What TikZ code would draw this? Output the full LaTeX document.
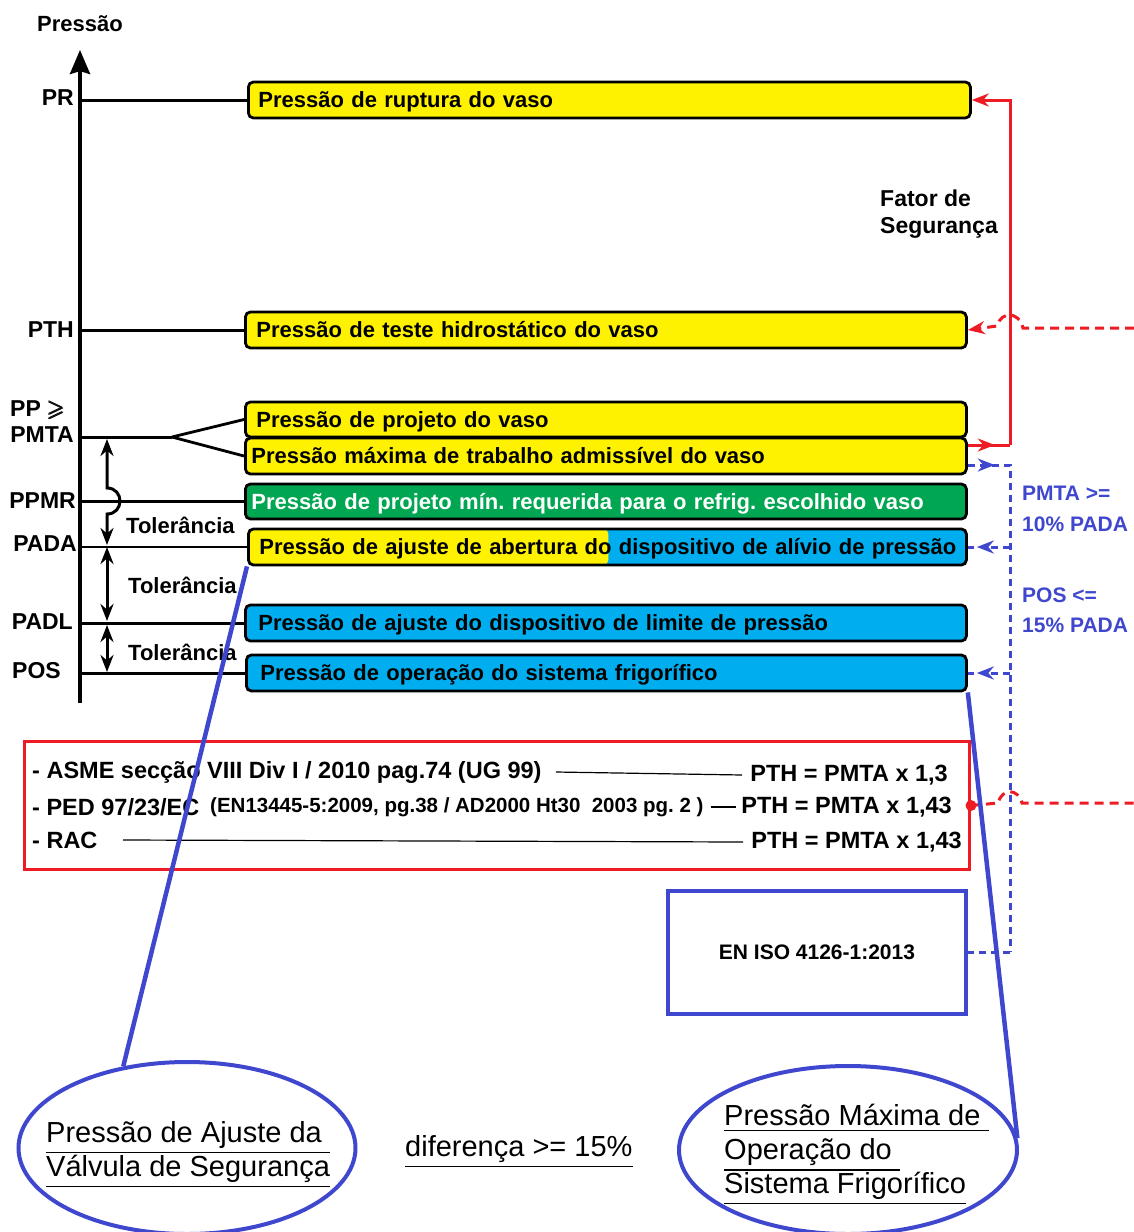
\documentclass[tikz,border=0pt]{standalone}
\usepackage{amsmath}
\usepackage{amssymb}
\usepackage{fontspec}
\setmainfont{Liberation Sans}
\usetikzlibrary{arrows.meta,shapes.geometric}
\definecolor{ylw}{HTML}{FFF200}
\definecolor{grn}{HTML}{00A651}
\definecolor{cyn}{HTML}{00AEEF}
\definecolor{rd}{HTML}{ED1C24}
\definecolor{bl}{HTML}{4047CF}
\frenchspacing
\tikzset{
 lbl/.style={font=\bfseries\fontsize{22}{26}\selectfont, inner sep=0pt},
 albl/.style={font=\bfseries\fontsize{23}{26}\selectfont, inner sep=0pt},
 bx/.style={draw=black, line width=2.8pt, rounded corners=5pt, minimum height=36pt, inner ysep=0pt, text height=20pt, text depth=4.2pt, anchor=west, align=left, font=\bfseries\fontsize{22}{26}\selectfont},
 ln/.style={line width=3pt, black},
 tol/.style={line width=3pt, {Stealth[length=17pt,width=13pt]}-{Stealth[length=17pt,width=13pt]}},
 redl/.style={rd, line width=3pt},
 reddash/.style={rd, line width=3pt, dash pattern=on 9pt off 6pt},
 bdash/.style={bl, line width=3pt, dash pattern=on 7pt off 5pt},
 bline/.style={bl, line width=4.5pt},
 blbl/.style={font=\bfseries\fontsize{21}{25}\selectfont, text=bl, inner sep=0pt, anchor=west},
 rtx/.style={font=\bfseries\fontsize{23.5}{26}\selectfont, inner sep=0pt},
 stx/.style={font=\bfseries\fontsize{20.5}{22}\selectfont, inner sep=0pt},
 utx/.style={font=\fontsize{29}{34}\selectfont, inner sep=0pt, align=left},
 tip/.style={-{Stealth[length=17pt,width=13pt]}},
}
\begin{document}
\begin{tikzpicture}[x=1pt,y=-1pt]
\useasboundingbox[fill=white] (0,0) rectangle (1134,1232);

% axis
\coordinate (axb) at (80,703);
\coordinate (axt) at (80,50);
\draw[line width=4pt, -{Stealth[length=24pt,width=20pt,inset=3pt]}] (axb) -- (axt);
\node[lbl] (ttl) at (80,24) {Pressão};

% boxes
\node[bx, fill=ylw, text width=702pt, inner xsep=10pt] (pr) at (247,100) {\mbox{Pressão de ruptura do vaso}};
\node[bx, fill=ylw, text width=699pt, inner xsep=11pt] (pth) at (244,330) {\mbox{Pressão de teste hidrostático do vaso}};
\node[bx, fill=ylw, text width=699pt, inner xsep=11pt, minimum height=35pt] (pp) at (244,419.5) {\mbox{Pressão de projeto do vaso}};
\node[bx, fill=ylw, text width=709pt, inner xsep=6pt] (pmta) at (244,456) {\mbox{Pressão máxima de trabalho admissível do vaso}};
\node[bx, fill=grn, text=white, text width=709pt, inner xsep=6pt, minimum height=35pt] (ppmr) at (244,501.5) {\mbox{Pressão de projeto mín. requerida para o refrig. escolhido vaso}};
\node[bx, fill=cyn, text width=696pt, inner xsep=11pt,
  path picture={\fill[ylw] (path picture bounding box.south west) rectangle ([xshift=360pt]path picture bounding box.north west);}] (pada) at (247,547) {\mbox{Pressão de ajuste de abertura do dispositivo de alívio de pressão}};
\node[bx, fill=cyn, text width=695pt, inner xsep=13pt] (padl) at (244,623) {\mbox{Pressão de ajuste do dispositivo de limite de pressão}};
\node[bx, fill=cyn, text width=692pt, inner xsep=14pt] (pos) at (245,673) {\mbox{Pressão de operação do sistema frigorífico}};

% left labels
\node[albl, anchor=east] (lpr) at (74,98) {PR};
\node[albl, anchor=east] (lpth) at (74,330) {PTH};
\node[albl, anchor=west] (lpp) at (10,410) {PP $\pmb{\geqslant}$};
\node[albl, anchor=east] (lpmta) at (74,435) {PMTA};
\node[albl, anchor=east] (lppmr) at (76,501) {PPMR};
\node[albl, anchor=east] (lpada) at (77,544) {PADA};
\node[albl, anchor=east] (lpadl) at (73,622) {PADL};
\node[albl, anchor=east] (lpos) at (61,671) {POS};

% horizontal lines
\draw[ln] (pr.west -| axb) -- (pr.west);
\draw[ln] (pth.west -| axb) -- (pth.west);
\coordinate (fork) at (172,437);
\draw[ln] (fork -| axb) -- (fork);
\draw[line width=2.8pt] (fork) -- (pp.west);
\draw[line width=2.8pt] (fork) -- (pmta.west);
\draw[ln] (ppmr.west -| axb) -- (ppmr.west);
\draw[line width=2.2pt] (pada.west -| axb) -- (pada.west);
\draw[ln] (padl.west -| axb) -- (padl.west);
\draw[ln] (pos.west -| axb) -- (pos.west);

% tolerance arrows
\coordinate (t1) at (107,439);
\coordinate (t2) at (107,545);
\coordinate (t3) at (107,623);
\coordinate (t4) at (107,672);
\draw[tol] (t1) -- (107,488) .. controls (124.3,488) and (124.3,514) .. (107,514) -- (t2);
\draw[tol] ([yshift=-2pt]t2) -- ([yshift=2pt]t3);
\draw[tol] ([yshift=-2pt]t3) -- (t4);
\node[lbl, anchor=west] (tl1) at (126,525) {Tolerância};
\node[lbl, anchor=west] (tl2) at (128,585) {Tolerância};
\node[lbl, anchor=west] (tl3) at (128,652) {Tolerância};

% red safety factor connector
\coordinate (rTop) at (1010,100);
\coordinate (rBot) at (1010,445);
\draw[redl, tip] (rBot) -- (rTop) -- (pr.east);
\draw[redl] ([yshift=11pt]pmta.east) -- (rBot);
\draw[redl, tip] ([yshift=11pt]pmta.east) -- ++(27,0);
\node[font=\bfseries\fontsize{23}{27}\selectfont, inner sep=0pt, anchor=north west, align=left] (fs) at (880,190) {Fator de\\Segurança};

% red dashed to PTH
\coordinate (rdR) at (1134,328);
\draw[reddash, tip] (rdR) -- (1023,328) .. controls (1019,311) and (1001,311) .. (997,326) -- (pth.east);

% blue dashed
\coordinate (bTop) at (1010,465);
\coordinate (bBot) at (1010,952);
\draw[bdash] ([yshift=-9pt]pmta.east) -- (bTop) -- (bBot);
\draw[bdash, tip] ([yshift=-9pt]pmta.east) -- ++(27,0);
\draw[bdash, tip] (pada.east -| bTop) -- ([xshift=9pt]pada.east);
\draw[bdash] ([xshift=6pt]pada.east) -- (pada.east);
\draw[bdash, tip] (pos.east -| bTop) -- ([xshift=9pt]pos.east);
\draw[bdash] ([xshift=6pt]pos.east) -- (pos.east);
\node[blbl] (b1) at (1022,493) {PMTA >=};
\node[blbl] (b2) at (1022,524) {10\% PADA};
\node[blbl] (b3) at (1022,595) {POS <=};
\node[blbl] (b4) at (1022,625) {15\% PADA};

% red box
\node[draw=rd, line width=3pt, minimum width=945pt, minimum height=128pt, anchor=north west, inner sep=0pt] (rbox) at (23,740) {};
\node[rtx, anchor=west] (asme) at (32,772) {- ASME secção VIII Div I / 2010 pag.74 (UG 99)};
\node[rtx, anchor=east] (f1) at (948,775) {PTH = PMTA x 1,3};
\draw[line width=1.2pt] ([xshift=14pt]asme.east) -- ([xshift=-8pt]f1.west);
\node[rtx, anchor=west] (ped) at (32,807) {- PED 97/23/EC};
\node[stx, anchor=west] (en) at (210,807) {(EN13445-5:2009, pg.38 / AD2000 Ht30\ \ 2003 pg. 2 )};
\node[rtx, anchor=east] (f2) at (952,807) {PTH = PMTA x 1,43};
\draw[line width=1.2pt] ([xshift=7pt]en.east) -- ([xshift=-5pt]f2.west);
\node[rtx, anchor=west] (rac) at (32,840) {- RAC};
\node[rtx, anchor=east] (f3) at (962,842) {PTH = PMTA x 1,43};
\draw[line width=1.2pt] (rac.east -| 123,0) -- ([xshift=-8pt]f3.west);

% red dashed from red box
\coordinate (rdR2) at (1134,803);
\fill[rd] (rbox.east) circle (5.5pt);
\draw[reddash] (rbox.east) -- (998,803) .. controls (1002,788) and (1018,788) .. (1022,803) -- (rdR2);

% EN ISO box
\node[draw=bl, line width=4pt, minimum width=298pt, minimum height=123pt, inner sep=0pt, font=\bfseries\fontsize{21}{24}\selectfont] (eniso) at (817,952) {EN ISO 4126-1:2013};
\draw[bdash] (bBot) -- (eniso.east);

% ellipses
\node[ellipse, draw=bl, line width=4pt, minimum width=337pt, minimum height=172pt, inner sep=0pt] (e1) at (187,1148) {};
\node[ellipse, draw=bl, line width=4pt, minimum width=338pt, minimum height=168pt, inner sep=0pt] (e2) at (848,1150) {};
\node[utx, anchor=west] (e1t) at (46,1155) {\underline{Pressão de Ajuste da\ }\\\underline{Válvula de Segurança}};
\node[utx, anchor=west] (e2t) at (724,1155) {\underline{Pressão Máxima de\ }\\\underline{Operação do\ }\\\underline{Sistema Frigorífico}};
\node[utx, anchor=west] (dif) at (405,1152) {\underline{diferença >= 15\%}};

% callout lines
\draw[bline] (pada.south west) -- (e1.128);
\draw[bline] (pos.south east) -- (e2.4);
\end{tikzpicture}
\end{document}
